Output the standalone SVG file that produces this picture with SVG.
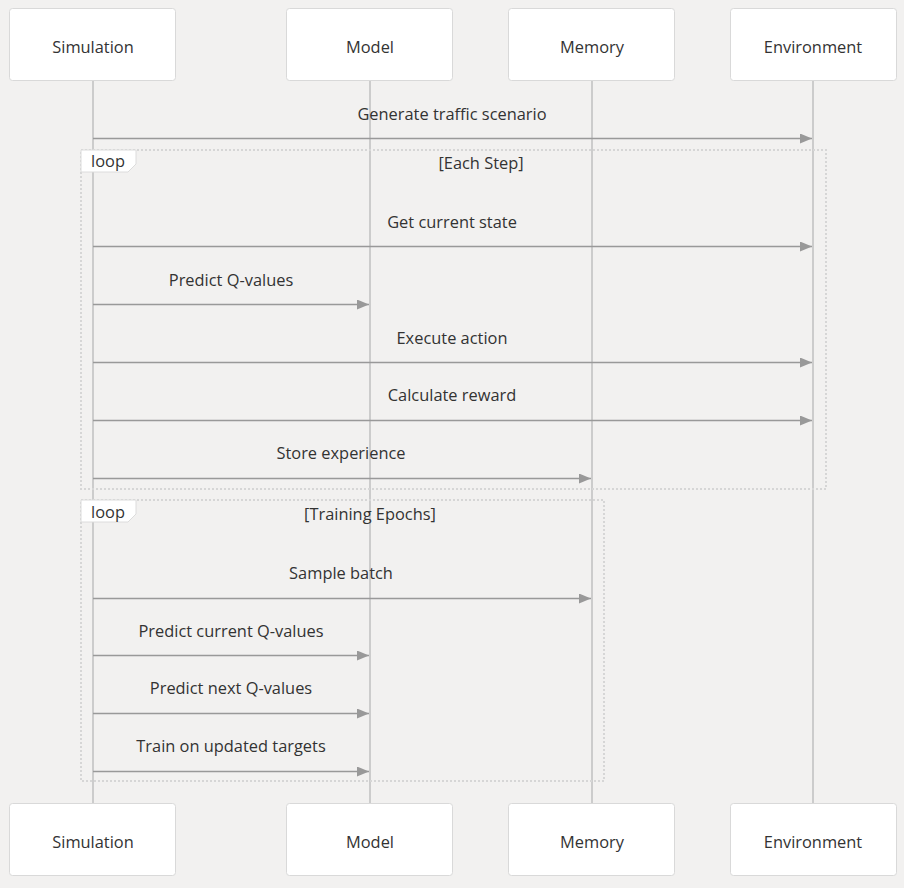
<svg xmlns="http://www.w3.org/2000/svg" width="904" height="888" viewBox="0 0 904 888">
<defs>
<style>
.bg{fill:#f2f1f0}
.actor rect{fill:#fff;stroke:#d9d9d9;stroke-width:1}
.actor text,.msg text,.loop text{font-family:"Segoe UI","Open Sans","Liberation Sans",sans-serif;font-size:16.4px;fill:#333;text-anchor:middle}
.life{stroke:#cccccc;stroke-width:2}
.msg line{stroke:#999;stroke-width:1.5;marker-end:url(#ah)}
.frame{fill:none;stroke:#d6d6d6;stroke-width:2;stroke-dasharray:2 2}
.tag{fill:#fff;stroke:#dcdcdc;stroke-width:1}
</style>
<marker id="ah" viewBox="0 0 12 10" refX="12" refY="5" markerWidth="12" markerHeight="10" markerUnits="userSpaceOnUse" orient="auto">
<path d="M0,0 L12,5 L0,10 z" fill="#999"/>
</marker>
</defs>
<rect class="bg" x="0" y="0" width="904" height="888"/>
<g id="lifelines">
<line class="life" x1="93" y1="80" x2="93" y2="804"/>
<line class="life" x1="370" y1="80" x2="370" y2="804"/>
<line class="life" x1="592" y1="80" x2="592" y2="804"/>
<line class="life" x1="813" y1="80" x2="813" y2="804"/>
</g>
<g id="loop-each-step" class="loop">
<rect class="frame" x="81" y="150" width="745" height="339"/>
<polygon class="tag" points="81,150 136,150 136,164 128,172 81,172"/>
<text x="108" y="167">loop</text>
<text x="481" y="169">[Each Step]</text>
</g>
<g id="loop-training" class="loop">
<rect class="frame" x="81" y="500" width="523" height="281"/>
<polygon class="tag" points="81,500 136,500 136,514 128,522 81,522"/>
<text x="108" y="518">loop</text>
<text x="370" y="520">[Training Epochs]</text>
</g>
<g id="connectors" class="msg">
<text x="452" y="120">Generate traffic scenario</text>
<line x1="93" y1="138.5" x2="812" y2="138.5"/>
<text x="452" y="228">Get current state</text>
<line x1="93" y1="246.5" x2="812" y2="246.5"/>
<text x="231" y="286">Predict Q-values</text>
<line x1="93" y1="304.5" x2="369" y2="304.5"/>
<text x="452" y="344">Execute action</text>
<line x1="93" y1="362.5" x2="812" y2="362.5"/>
<text x="452" y="401">Calculate reward</text>
<line x1="93" y1="420.5" x2="812" y2="420.5"/>
<text x="341" y="459">Store experience</text>
<line x1="93" y1="478.5" x2="591" y2="478.5"/>
<text x="341" y="579">Sample batch</text>
<line x1="93" y1="598.5" x2="591" y2="598.5"/>
<text x="231" y="637">Predict current Q-values</text>
<line x1="93" y1="655.5" x2="369" y2="655.5"/>
<text x="231" y="694">Predict next Q-values</text>
<line x1="93" y1="713.5" x2="369" y2="713.5"/>
<text x="231" y="752">Train on updated targets</text>
<line x1="93" y1="771.5" x2="369" y2="771.5"/>
</g>
<g id="actor-simulation-top" class="actor"><rect x="9.5" y="8.5" width="166" height="72" rx="3"/><text x="93" y="53">Simulation</text></g>
<g id="actor-model-top" class="actor"><rect x="286.5" y="8.5" width="166" height="72" rx="3"/><text x="370" y="53">Model</text></g>
<g id="actor-memory-top" class="actor"><rect x="508.5" y="8.5" width="166" height="72" rx="3"/><text x="592" y="53">Memory</text></g>
<g id="actor-environment-top" class="actor"><rect x="730.5" y="8.5" width="166" height="72" rx="3"/><text x="813" y="53">Environment</text></g>
<g id="actor-simulation-bottom" class="actor"><rect x="9.5" y="803.5" width="166" height="72" rx="3"/><text x="93" y="848">Simulation</text></g>
<g id="actor-model-bottom" class="actor"><rect x="286.5" y="803.5" width="166" height="72" rx="3"/><text x="370" y="848">Model</text></g>
<g id="actor-memory-bottom" class="actor"><rect x="508.5" y="803.5" width="166" height="72" rx="3"/><text x="592" y="848">Memory</text></g>
<g id="actor-environment-bottom" class="actor"><rect x="730.5" y="803.5" width="166" height="72" rx="3"/><text x="813" y="848">Environment</text></g>
</svg>
